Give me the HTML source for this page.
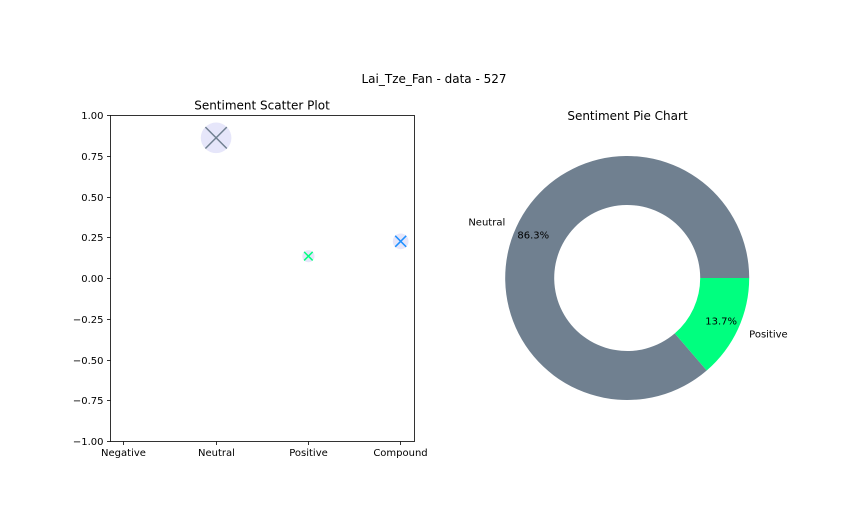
<!DOCTYPE html>
<html>
<head>
<meta charset="utf-8">
<style>
html,body{margin:0;padding:0;background:#fff;width:859px;height:530px;overflow:hidden}
svg{display:block}
text{font-family:"DejaVu Sans","Liberation Sans",sans-serif;fill:#000}
</style>
</head>
<body>
<svg id="fig" width="859" height="530" viewBox="0 0 859 530" xmlns="http://www.w3.org/2000/svg">
<rect width="859" height="530" fill="#fff"/>
<text x="434" y="83" font-size="12" text-anchor="middle">Lai_Tze_Fan - data - 527</text>
<text x="262" y="109.500" font-size="12" text-anchor="middle">Sentiment Scatter Plot</text>
<text x="627.500" y="120" font-size="12" text-anchor="middle">Sentiment Pie Chart</text>
<g id="scatter"></g>
<g id="pie"></g>
</svg>
<script>
var categories = ['Negative', 'Neutral', 'Positive', 'Compound'];
var scores = [0, 0.863, 0.137, 0.228];
var markerColors = ['#ff0000', '#708090', '#00ff7f', '#1e90ff'];
var yTicks = [-1, -0.75, -0.5, -0.25, 0, 0.25, 0.5, 0.75, 1];
var yTickLabels = ['\u22121.00', '\u22120.75', '\u22120.50', '\u22120.25', '0.00', '0.25', '0.50', '0.75', '1.00'];
var pieLabels = ['Neutral', 'Positive'];
var pieValues = [0.863, 0.137];
var pieColors = ['#708090', '#00ff7f'];

var NS = 'http://www.w3.org/2000/svg';
function make(parent, tag, attrs, txt) {
  var el = document.createElementNS(NS, tag);
  for (var k in attrs) el.setAttribute(k, attrs[k]);
  if (txt !== undefined) el.textContent = txt;
  parent.appendChild(el);
  return el;
}

/* scatter axes */
var ax = {l: 110.5, r: 414.5, t: 115.5, b: 441.5};
function xPos(i) { return 123.8 + i * (400.7 - 123.8) / (categories.length - 1); }
function yPos(v) { return ax.b - (v + 1) / 2 * (ax.b - ax.t); }
var sc = document.getElementById('scatter');

categories.forEach(function (c, i) {
  var v = scores[i];
  if (v <= 0) return;
  var f = Math.sqrt(v / 0.863);
  var cx = xPos(i), cy = yPos(v);
  var dot = make(sc, 'circle', {cx: cx, cy: cy, r: 15.3 * f, fill: '#e6e6fa'});
  
  
  var h = 10.7 * f;
  var mark = make(sc, 'path', {
    d: 'M' + (cx - h) + ' ' + (cy - h) + 'L' + (cx + h) + ' ' + (cy + h) +
       'M' + (cx - h) + ' ' + (cy + h) + 'L' + (cx + h) + ' ' + (cy - h),
    stroke: markerColors[i], 'stroke-width': 1.5, fill: 'none'
  });
  
  
});

var frame = make(sc, 'rect', {x: ax.l, y: ax.t, width: ax.r - ax.l, height: ax.b - ax.t, fill: 'none', stroke: '#000', 'stroke-width': 0.8});



yTicks.forEach(function (t, i) {
  var y = Math.round(yPos(t) - 0.5) + 0.5;
  var tick = make(sc, 'line', {x1: ax.l - 3.5, x2: ax.l, y1: y, y2: y, stroke: '#000', 'stroke-width': 0.8});
  
  
  var lab = make(sc, 'text', {x: ax.l - 7, y: y + 3.5, 'font-size': 10, 'text-anchor': 'end'}, yTickLabels[i]);
  
  
});

categories.forEach(function (c, i) {
  var x = Math.round(xPos(i) - 0.5) + 0.5;
  var tick = make(sc, 'line', {x1: x, x2: x, y1: ax.b, y2: ax.b + 3.5, stroke: '#000', 'stroke-width': 0.8});
  
  
  var lab = make(sc, 'text', {x: x, y: ax.b + 14.5, 'font-size': 10, 'text-anchor': 'middle'}, c);
  
  
});

/* donut */
var pc = {x: 627.2, y: 278, R: 122, r: 73};
var pie = document.getElementById('pie');
var total = pieValues.reduce(function (a, b) { return a + b; }, 0);
var start = 0;
pieValues.forEach(function (v, i) {
  var frac = v / total;
  var a0 = start * 2 * Math.PI, a1 = (start + frac) * 2 * Math.PI, mid = (a0 + a1) / 2;
  var large = frac > 0.5 ? 1 : 0;
  function px(a, rad) { return (pc.x + rad * Math.cos(a)).toFixed(2); }
  function py(a, rad) { return (pc.y - rad * Math.sin(a)).toFixed(2); }
  var d = 'M' + px(a0, pc.R) + ' ' + py(a0, pc.R) +
    'A' + pc.R + ' ' + pc.R + ' 0 ' + large + ' 0 ' + px(a1, pc.R) + ' ' + py(a1, pc.R) +
    'L' + px(a1, pc.r) + ' ' + py(a1, pc.r) +
    'A' + pc.r + ' ' + pc.r + ' 0 ' + large + ' 1 ' + px(a0, pc.r) + ' ' + py(a0, pc.r) + 'Z';
  var key = pieLabels[i].toLowerCase();
  var slice = make(pie, 'path', {d: d, fill: pieColors[i]});
  
  
  var lx = pc.x + 1.1 * pc.R * Math.cos(mid), ly = pc.y - 1.1 * pc.R * Math.sin(mid);
  var lab = make(pie, 'text', {x: lx, y: ly + 3.5, 'font-size': 10, 'text-anchor': Math.cos(mid) < 0 ? 'end' : 'start'}, pieLabels[i]);
  
  
  var tx = pc.x + 0.77 * pc.R * Math.cos(mid) * 1.1, ty = pc.y - 0.77 * pc.R * Math.sin(mid) * 1.1;
  var pct = make(pie, 'text', {x: tx, y: ty + 3.5, 'font-size': 10, 'text-anchor': 'middle'}, (frac * 100).toFixed(1) + '%');
  
  
  start += frac;
});
</script>
</body>
</html>
